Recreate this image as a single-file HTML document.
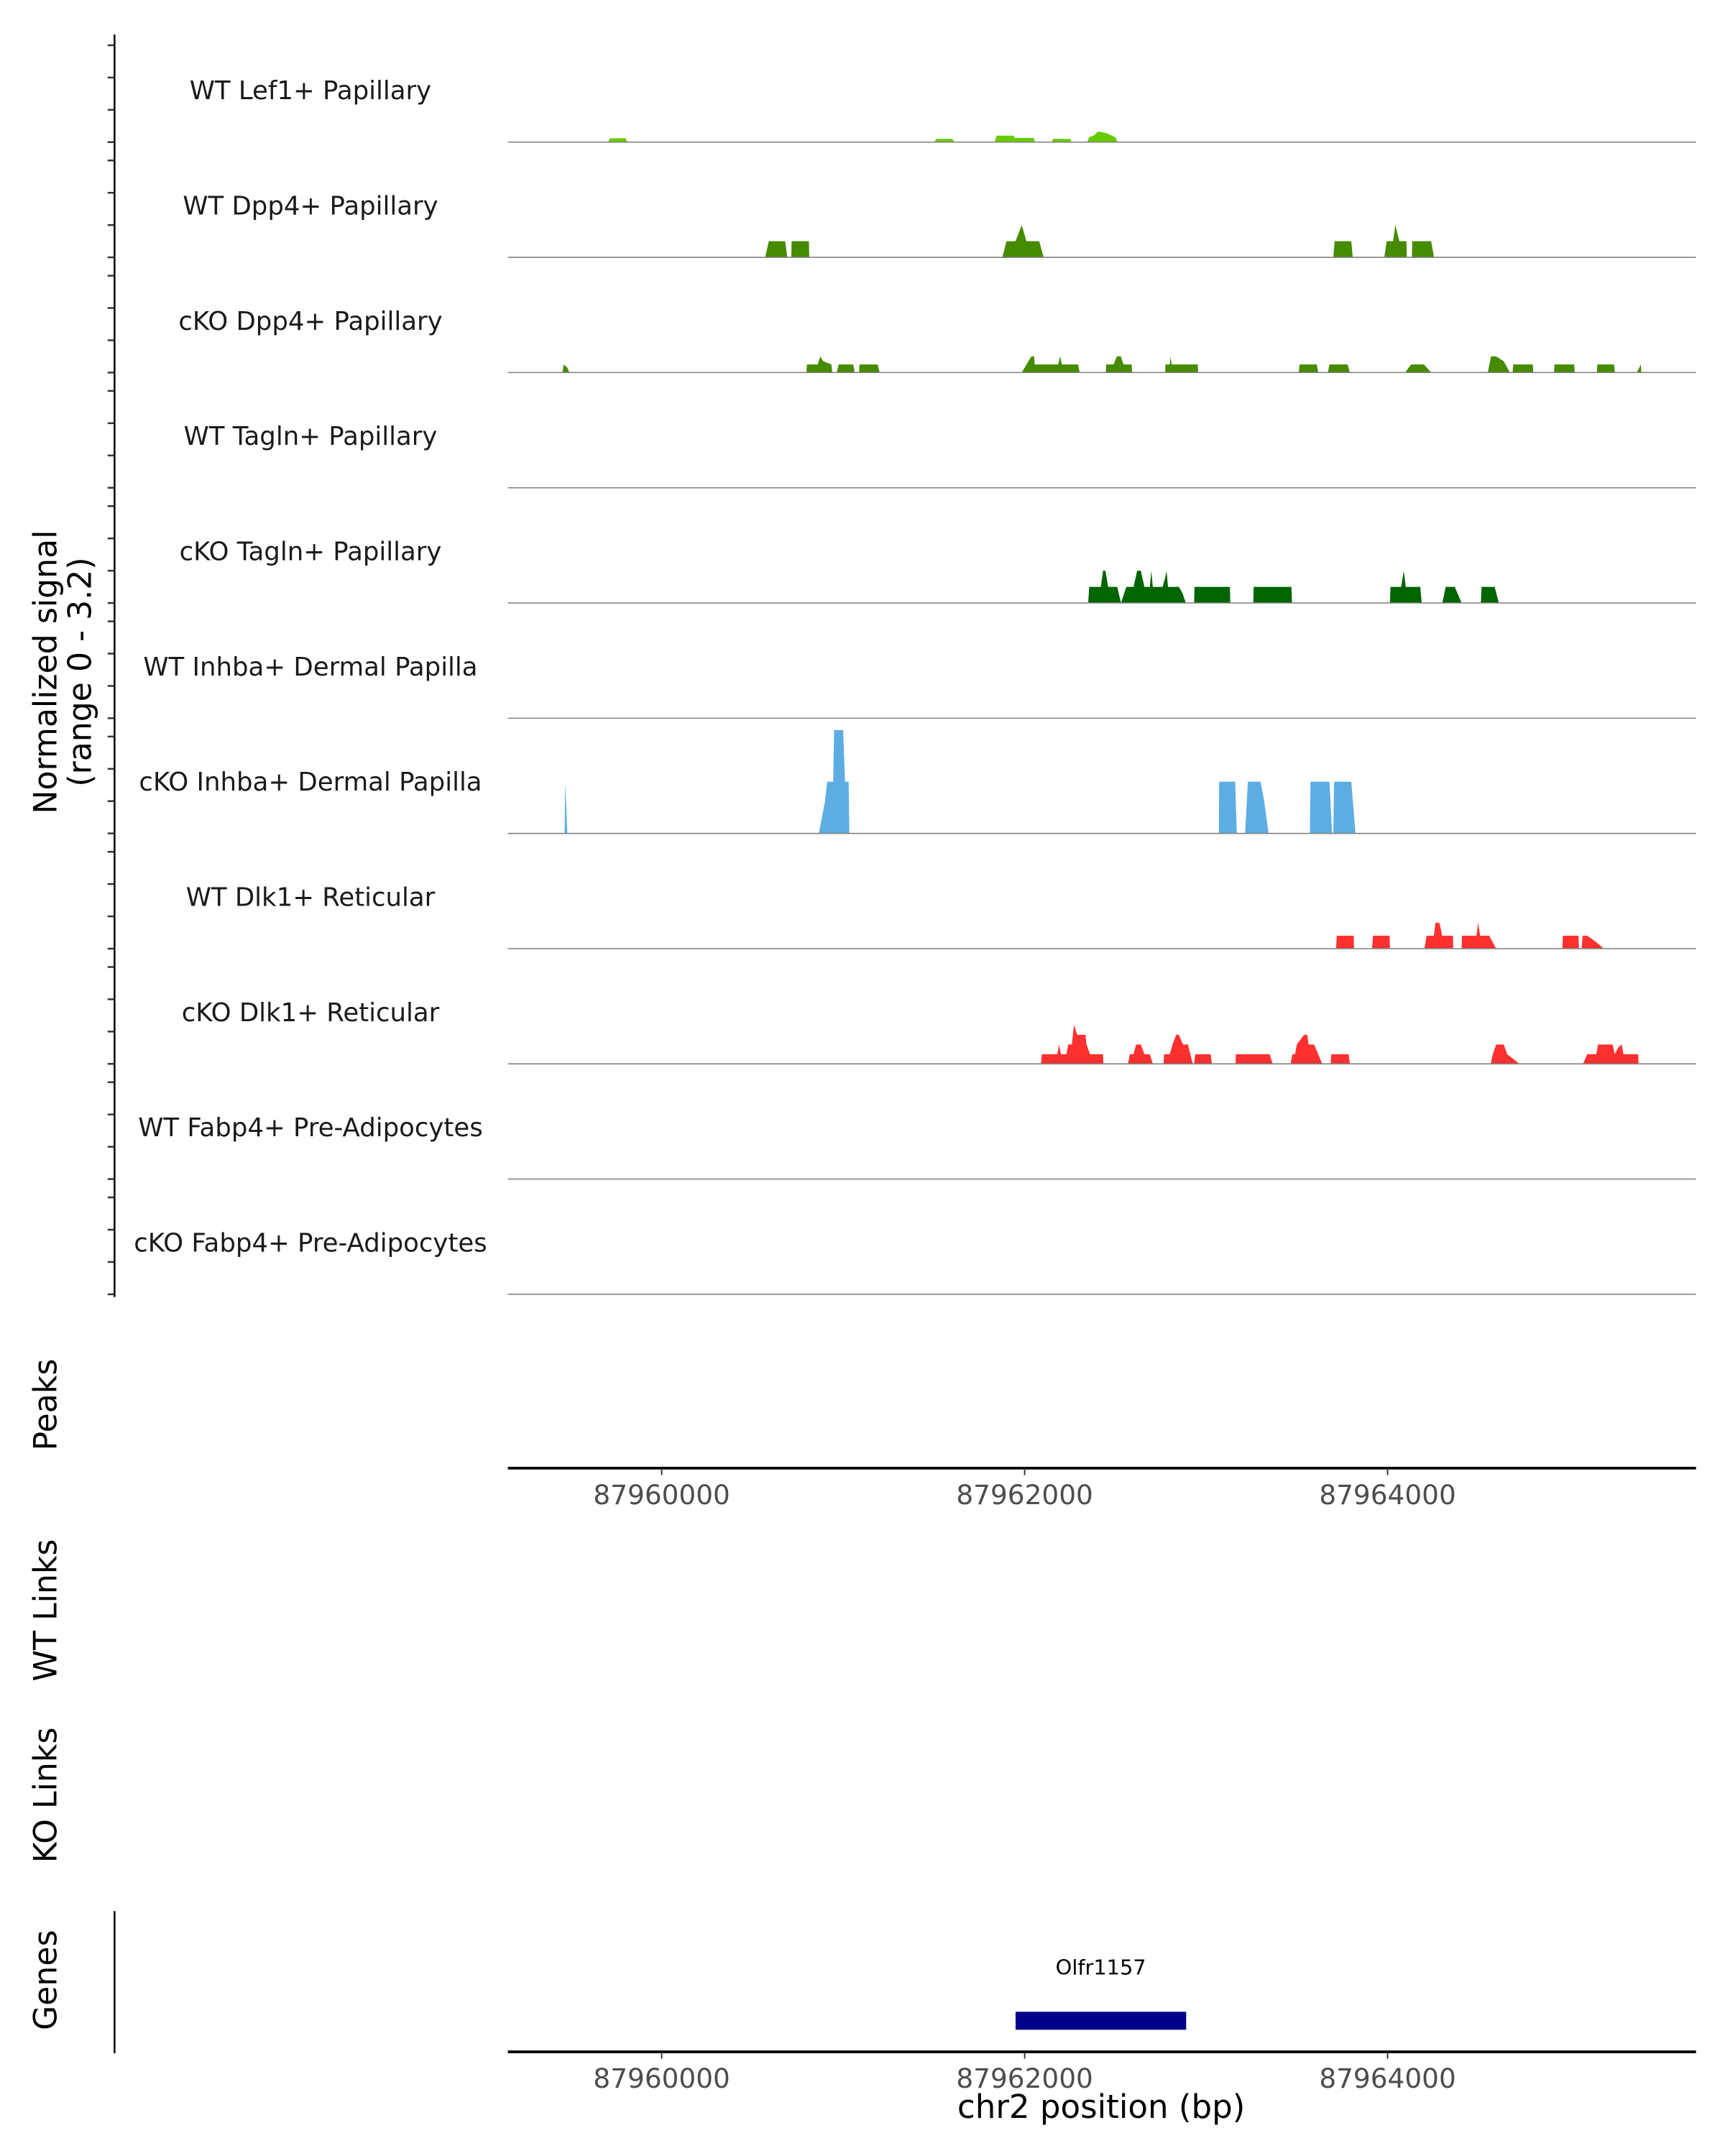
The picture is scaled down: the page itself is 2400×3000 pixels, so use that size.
<!DOCTYPE html>
<html><head><meta charset="utf-8">
<style>
html,body{margin:0;padding:0;background:#fff;}
svg{display:block;}
text{font-family:"DejaVu Sans","Liberation Sans",sans-serif;}
</style></head>
<body>
<svg id="chart" width="2400" height="3000" viewBox="0 0 1250 1562.5" xmlns="http://www.w3.org/2000/svg">
<rect x="0" y="0" width="1250" height="1562.5" fill="#fff"/>
<g id="tracks"></g>
<g id="yaxis"></g>
<text transform="translate(41,487) rotate(-90)" text-anchor="middle" font-size="23">Normalized signal</text>
<text transform="translate(66,487) rotate(-90)" text-anchor="middle" font-size="23">(range 0 - 3.2)</text>
<text transform="translate(41,1018) rotate(-90)" text-anchor="middle" font-size="23">Peaks</text>
<text transform="translate(41,1167) rotate(-90)" text-anchor="middle" font-size="23">WT Links</text>
<text transform="translate(41,1301) rotate(-90)" text-anchor="middle" font-size="23">KO Links</text>
<text transform="translate(41,1435) rotate(-90)" text-anchor="middle" font-size="23">Genes</text>
<line x1="83" y1="1385" x2="83" y2="1488" stroke="#000" stroke-width="1.3"/>
<g id="xaxes"></g>
<g id="genes"></g>
<text x="798" y="1535" text-anchor="middle" font-size="23.5">chr2 position (bp)</text>
</svg>
<script>
const REF = 87960000;
const trackNames = ["WT Lef1+ Papillary","WT Dpp4+ Papillary","cKO Dpp4+ Papillary","WT Tagln+ Papillary","cKO Tagln+ Papillary","WT Inhba+ Dermal Papilla","cKO Inhba+ Dermal Papilla","WT Dlk1+ Reticular","cKO Dlk1+ Reticular","WT Fabp4+ Pre-Adipocytes","cKO Fabp4+ Pre-Adipocytes"];
const trackColors = ["#66cc00","#458b00","#458b00","#006400","#006400","#5dade2","#5dade2","#ff3030","#ff3030","#8b4513","#8b4513"];
const xTicks = [87960000,87962000,87964000];
const yTicks = [0,1,2,3];
// offsets (bp from REF) and signal values per track
const lef1Offset = [-295,-285,-200,-188, 1500,1515,1600,1615, 1835,1845,1940,1945,2050,2058, 2148,2158,2250,2260, 2345,2355,2380,2405,2450,2500,2512];
const lef1Value  = [0,0.12,0.12,0, 0,0.1,0.1,0, 0,0.2,0.2,0.13,0.13,0, 0,0.1,0.1,0, 0,0.15,0.2,0.33,0.28,0.15,0];
const wtDpp4Offset = [570,590,680,692, 714,716,811,813, 1877,1900,1950,1984,2010,2080,2105, 3701,3708,3800,3808, 3982,3995,4030,4043,4065,4104,4106, 4134,4136,4240,4256];
const wtDpp4Value  = [0,0.5,0.5,0, 0,0.5,0.5,0, 0,0.5,0.5,1.0,0.5,0.5,0, 0,0.5,0.5,0, 0,0.5,0.5,1.0,0.5,0.5,0, 0,0.5,0.5,0];
const koDpp4Offset = [-547,-540,-520,-509, 798,800,860,874,890,935,940, 965,975,1055,1064, 1087,1090,1190,1201, 1984,2010,2037,2052,2055,2185,2196,2205,2295,2303, 2447,2450,2490,2508,2530,2545,2590,2592, 2774,2776,2800,2804,2810,2954,2956, 3511,3515,3610,3618, 3671,3680,3780,3792, 4096,4130,4200,4241, 4552,4570,4598,4640,4674, 4689,4692,4800,4803, 4917,4920,5028,5031, 5153,5156,5248,5252, 5373,5396,5398];
const koDpp4Value  = [0,0.25,0.15,0, 0,0.25,0.25,0.5,0.35,0.25,0, 0,0.25,0.25,0, 0,0.25,0.25,0, 0,0.25,0.5,0.5,0.25,0.25,0.5,0.25,0.25,0, 0,0.25,0.25,0.5,0.5,0.25,0.25,0, 0,0.25,0.25,0.5,0.25,0.25,0, 0,0.25,0.25,0, 0,0.25,0.25,0, 0,0.25,0.25,0, 0,0.5,0.5,0.35,0, 0,0.25,0.25,0, 0,0.25,0.25,0, 0,0.25,0.25,0, 0,0.25,0];
const koTaglnOffset = [2350,2356,2420,2432,2445,2460,2510,2531, 2531,2560,2600,2620,2640,2660,2690,2698,2706,2760,2775,2782,2790,2850,2870,2888, 2934,2936,3131,3133, 3260,3262,3470,3473, 4013,4016,4075,4089,4100,4180,4188, 4302,4320,4370,4408, 4514,4518,4590,4613];
const koTaglnValue  = [0,0.5,0.5,1.0,1.0,0.5,0.5,0, 0,0.5,0.5,1.0,1.0,0.5,0.5,1.0,0.5,0.5,0.8,1.0,0.5,0.5,0.3,0, 0,0.5,0.5,0, 0,0.5,0.5,0, 0,0.5,0.5,1.0,0.5,0.5,0, 0,0.5,0.5,0, 0,0.5,0.5,0];
const koInhbaOffset = [-535,-532,-520, 866,900,912,945,950,1000,1010,1030,1034, 3070,3072,3160,3169, 3215,3230,3300,3320,3344, 3572,3575,3680,3694, 3701,3705,3800,3823];
const koInhbaValue  = [0,1.6,0, 0,1.0,1.6,1.6,3.2,3.2,1.6,1.6,0, 0,1.6,1.6,0, 0,1.6,1.6,1.0,0, 0,1.6,1.6,0, 0,1.6,1.6,0];
const wtDlk1Offset = [3716,3720,3813,3815, 3914,3920,4011,4013, 4203,4215,4255,4264,4285,4294,4300,4360,4362, 4408,4410,4490,4499,4510,4560,4598, 4963,4966,5052,5054,5069,5075,5100,5150,5191];
const wtDlk1Value  = [0,0.4,0.4,0, 0,0.4,0.4,0, 0,0.4,0.4,0.8,0.8,0.6,0.4,0.4,0, 0,0.4,0.4,0.8,0.4,0.4,0, 0,0.4,0.4,0,0,0.4,0.4,0.2,0];
const koDlk1Offset = [2090,2095,2180,2189,2200,2230,2240,2260,2272,2290,2335,2341,2360,2432,2434, 2569,2580,2600,2614,2640,2660,2690,2706, 2766,2768,2800,2815,2835,2850,2873,2900,2926, 2934,2940,3025,3032, 3162,3164,3350,3367, 3466,3475,3490,3500,3540,3557,3565,3595,3640, 3686,3690,3785,3792, 4568,4580,4598,4640,4659,4727, 5077,5100,5150,5160,5240,5252,5270,5290,5300,5381,5383];
const koDlk1Value  = [0,0.3,0.3,0.6,0.3,0.3,0.6,0.6,1.2,0.9,0.9,0.6,0.3,0.3,0, 0,0.3,0.3,0.6,0.6,0.3,0.3,0, 0,0.3,0.3,0.6,0.9,0.9,0.6,0.6,0, 0,0.3,0.3,0, 0,0.3,0.3,0, 0,0.3,0.3,0.6,0.9,0.9,0.6,0.6,0, 0,0.3,0.3,0, 0,0.3,0.6,0.6,0.3,0, 0,0.3,0.3,0.6,0.6,0.3,0.5,0.6,0.3,0.3,0];
const trackOffsets = [lef1Offset,wtDpp4Offset,koDpp4Offset,[],koTaglnOffset,[],koInhbaOffset,wtDlk1Offset,koDlk1Offset,[],[]];
const trackValues  = [lef1Value,wtDpp4Value,koDpp4Value,[],koTaglnValue,[],koInhbaValue,wtDlk1Value,koDlk1Value,[],[]];
const geneName = "Olfr1157";
const geneStart = 87961950;
const geneEnd = 87962890;

const NS = "http://www.w3.org/2000/svg";
const X0 = 368, X1 = 1229;
function xs(bp){ return 479.5 + (bp - REF) * (263/2000); }
function baseY(i){ return 103 + i*83.5; }
function ys(i, v){ return baseY(i) - v*23.4; }
function mk(tag, attrs, parent){ const e=document.createElementNS(NS,tag); for(const k in attrs) e.setAttribute(k, attrs[k]); parent.appendChild(e); return e; }

const tracks = document.getElementById('tracks');
const yaxis = document.getElementById('yaxis');
trackNames.forEach((name,i)=>{
  const g = mk('g',{},tracks);
  
  
  const offs = trackOffsets[i], vals = trackValues[i];
  if (offs.length){
    let pts = xs(REF+offs[0]).toFixed(2)+','+baseY(i);
    for (let k=0;k<offs.length;k++) pts += ' '+xs(REF+offs[k]).toFixed(2)+','+ys(i,vals[k]).toFixed(2);
    pts += ' '+xs(REF+offs[offs.length-1]).toFixed(2)+','+baseY(i);
    const p = mk('polygon',{points:pts, fill:trackColors[i], stroke:'none'}, g);
    
    
  }
  const ln = mk('line',{x1:X0,y1:baseY(i),x2:X1,y2:baseY(i),stroke:'#808080','stroke-width':0.8}, g);
  
  
  const t = mk('text',{x:225,y:baseY(i)-31,'text-anchor':'middle','font-size':18.5,fill:'#1a1a1a'}, g);
  t.textContent = name;
  
  
  yTicks.forEach(v=>{
    const tk = mk('line',{x1:78,x2:83,y1:ys(i,v),y2:ys(i,v),stroke:'#333','stroke-width':1.3}, yaxis);
    
    
  });
});
const yl = mk('line',{x1:83,y1:25,x2:83,y2:940,stroke:'#000','stroke-width':1.3}, yaxis);



const xaxes = document.getElementById('xaxes');
[1064,1487].forEach((y,j)=>{
  const l = mk('line',{x1:X0,x2:X1,y1:y,y2:y,stroke:'#000','stroke-width':2}, xaxes);
  
  
  xTicks.forEach(v=>{
    const tk = mk('line',{x1:xs(v),x2:xs(v),y1:y,y2:y+5,stroke:'#333','stroke-width':1}, xaxes);
    
    
    const tl = mk('text',{x:xs(v),y:y+26,'text-anchor':'middle','font-size':19.5,fill:'#4d4d4d'}, xaxes);
    tl.textContent = String(v);
    
    
  });
});

const genes = document.getElementById('genes');
const gr = mk('rect',{x:xs(geneStart),y:1458,width:xs(geneEnd)-xs(geneStart),height:13,fill:'#00008b'}, genes);


const gt = mk('text',{x:(xs(geneStart)+xs(geneEnd))/2,y:1431,'text-anchor':'middle','font-size':15,fill:'#000'}, genes);
gt.textContent = geneName;


</script>
</body></html>
